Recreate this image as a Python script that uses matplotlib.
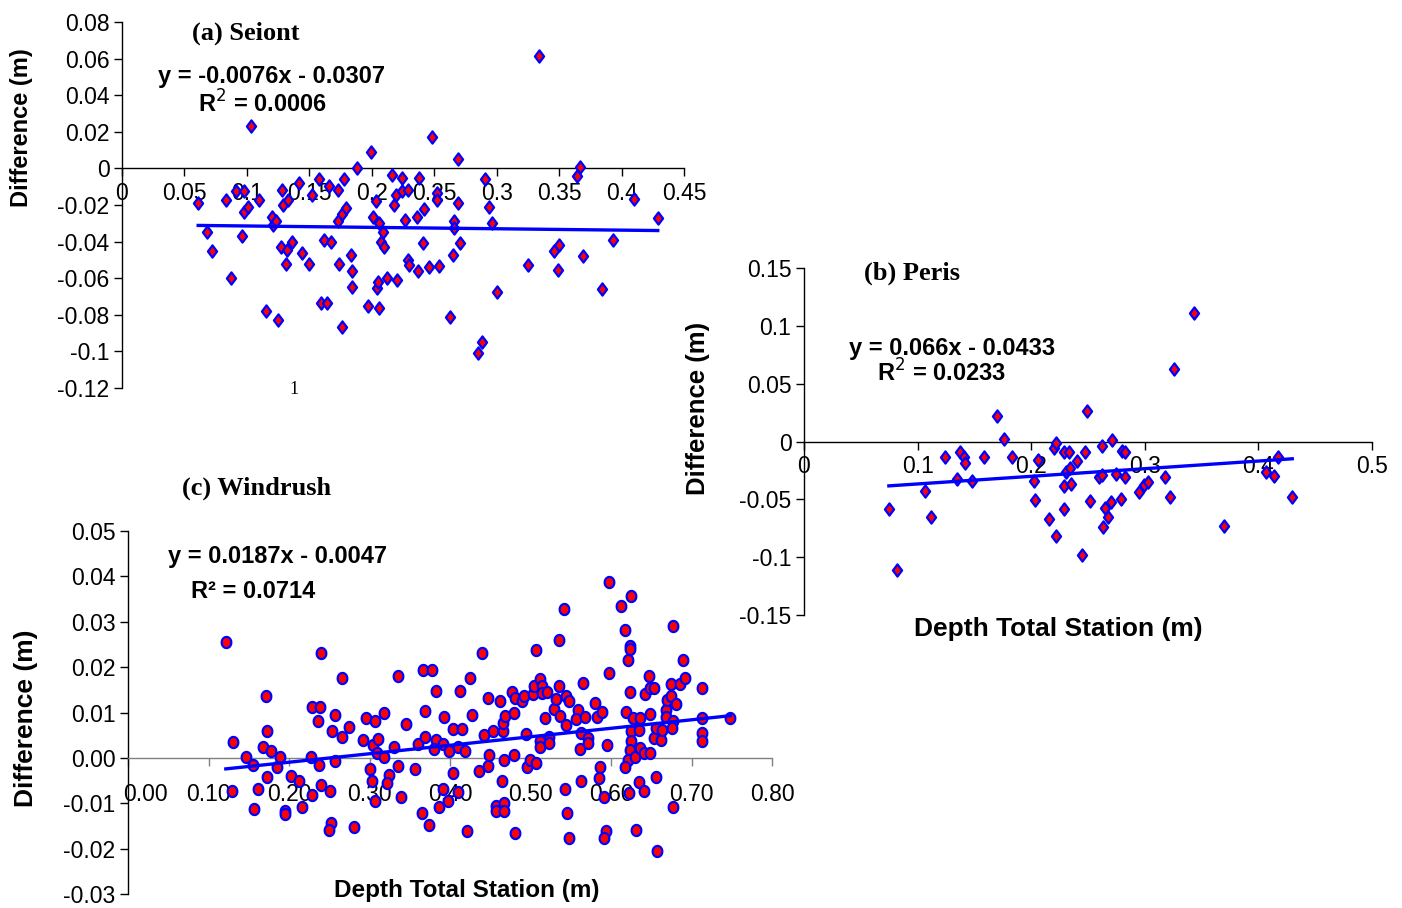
import numpy as np
import matplotlib
matplotlib.use('Agg')
import matplotlib.pyplot as plt
from matplotlib.path import Path
from matplotlib.transforms import ScaledTranslation

W, H = 1402, 908

# (a) Seiont
seiont_x = [0.061, 0.068, 0.072, 0.083, 0.087, 0.091, 0.096, 0.098, 0.098, 0.101,
            0.103, 0.110, 0.115, 0.120, 0.121, 0.123, 0.125, 0.127, 0.128, 0.129,
            0.131, 0.132, 0.133, 0.136, 0.142, 0.144, 0.150, 0.152, 0.158, 0.159,
            0.162, 0.164, 0.166, 0.167, 0.173, 0.173, 0.174, 0.176, 0.176, 0.178,
            0.179, 0.183, 0.184, 0.184, 0.188, 0.197, 0.199, 0.201, 0.203, 0.204,
            0.205, 0.206, 0.206, 0.207, 0.209, 0.210, 0.212, 0.216, 0.218, 0.219,
            0.220, 0.224, 0.224, 0.227, 0.229, 0.229, 0.230, 0.236, 0.237, 0.238,
            0.241, 0.242, 0.246, 0.248, 0.252, 0.252, 0.254, 0.263, 0.265, 0.266,
            0.266, 0.269, 0.269, 0.271, 0.285, 0.288, 0.291, 0.294, 0.296, 0.300,
            0.325, 0.334, 0.346, 0.349, 0.350, 0.364, 0.367, 0.369, 0.384, 0.393,
            0.410, 0.429]
seiont_y = [-0.0189, -0.0347, -0.0453, -0.0173, -0.0600, -0.0125, -0.0370, -0.0125, -0.0240, -0.0210,
            0.0231, -0.0173, -0.0780, -0.0265, -0.0310, -0.0290, -0.0830, -0.0430, -0.0120, -0.0200,
            -0.0525, -0.0447, -0.0175, -0.0400, -0.0080, -0.0460, -0.0525, -0.0147, -0.0058, -0.0736,
            -0.0390, -0.0736, -0.0095, -0.0400, -0.0120, -0.0290, -0.0525, -0.0865, -0.0250, -0.0058,
            -0.0215, -0.0475, -0.0560, -0.0650, 0.0000, -0.0753, 0.0087, -0.0265, -0.0180, -0.0656,
            -0.0620, -0.0300, -0.0765, -0.0400, -0.0347, -0.0430, -0.0600, -0.0036, -0.0200, -0.0147,
            -0.0610, -0.0050, -0.0125, -0.0280, -0.0120, -0.0500, -0.0527, -0.0265, -0.0560, -0.0050,
            -0.0410, -0.0220, -0.0540, 0.0170, -0.0135, -0.0170, -0.0536, -0.0810, -0.0475, -0.0290,
            -0.0325, 0.0050, -0.0190, -0.0410, -0.1007, -0.0947, -0.0060, -0.0210, -0.0300, -0.0678,
            -0.0527, 0.0613, -0.0453, -0.0556, -0.0420, -0.0042, 0.0007, -0.0480, -0.0660, -0.0393,
            -0.0165, -0.0273]
seiont_fit = (-0.0076, -0.0307)

# (b) Peris
peris_x = [0.0747, 0.0816, 0.1063, 0.1116, 0.1242, 0.1347, 0.1372, 0.1412, 0.1416, 0.1477,
           0.1587, 0.1700, 0.1757, 0.1834, 0.2025, 0.2037, 0.2062, 0.2155, 0.2200, 0.2220,
           0.2220, 0.2285, 0.2289, 0.2285, 0.2305, 0.2334, 0.2342, 0.2354, 0.2403, 0.2451,
           0.2472, 0.2492, 0.2520, 0.2601, 0.2626, 0.2626, 0.2634, 0.2646, 0.2679, 0.2699,
           0.2707, 0.2748, 0.2788, 0.2800, 0.2829, 0.2829, 0.2951, 0.2991, 0.3032, 0.3174,
           0.3222, 0.3259, 0.3429, 0.3701, 0.4067, 0.4135, 0.4176, 0.4298]
peris_y = [-0.0580, -0.1110, -0.0424, -0.0649, -0.0138, -0.0326, -0.0095, -0.0136, -0.0182, -0.0343,
           -0.0138, 0.0219, 0.0023, -0.0138, -0.0343, -0.0505, -0.0164, -0.0666, -0.0058, -0.0009,
           -0.0813, -0.0095, -0.0586, -0.0384, -0.0268, -0.0087, -0.0231, -0.0369, -0.0167, -0.0981,
           -0.0092, 0.0262, -0.0511, -0.0303, -0.0043, -0.0288, -0.0741, -0.0577, -0.0649, -0.0525,
           0.0009, -0.0280, -0.0499, -0.0081, -0.0095, -0.0303, -0.0438, -0.0375, -0.0346, -0.0303,
           -0.0482, 0.0626, 0.1110, -0.0730, -0.0268, -0.0297, -0.0130, -0.0476]
peris_fit = (0.066, -0.0433)

# (c) Windrush
windrush_x = [0.1215, 0.1306, 0.1298, 0.1472, 0.1559, 0.1560, 0.1610, 0.1710, 0.1730, 0.1730,
              0.1680, 0.1780, 0.1845, 0.1890, 0.1950, 0.1950, 0.2030, 0.2127, 0.2160, 0.2270,
              0.2290, 0.2380, 0.2360, 0.2397, 0.2376, 0.2289, 0.2397, 0.2504, 0.2575, 0.2533,
              0.2575, 0.2658, 0.2658, 0.2745, 0.2525, 0.2500, 0.2810,
              0.2915, 0.2960, 0.3068, 0.3180, 0.3040, 0.3110, 0.3090, 0.3176, 0.3006, 0.3027,
              0.3068, 0.3238, 0.3213, 0.3310, 0.3350, 0.3350, 0.3390, 0.3458, 0.3566, 0.3607,
              0.3648, 0.3735, 0.3669, 0.3777, 0.3822, 0.3694, 0.3694, 0.3822, 0.3798, 0.3930,
              0.3910, 0.3993, 0.3860, 0.3970, 0.3918, 0.4042, 0.4042, 0.4146, 0.4125, 0.4096,
              0.4190, 0.4104, 0.4254, 0.4275, 0.4400, 0.4208, 0.4362, 0.4420, 0.4470, 0.4470,
              0.4490, 0.4531, 0.4623, 0.4643, 0.4573, 0.4573, 0.4668, 0.4668, 0.4660, 0.4660,
              0.4680, 0.4677, 0.4789, 0.4764, 0.4805, 0.4789, 0.4810, 0.4896, 0.4925, 0.4946,
              0.4958, 0.4988, 0.5071, 0.5025, 0.5041, 0.5112, 0.5137, 0.5137, 0.5199, 0.5071,
              0.5112, 0.5112, 0.5224, 0.5224, 0.5182, 0.5286, 0.5311, 0.5352, 0.5370, 0.5348,
              0.5415, 0.5435, 0.5473, 0.5444, 0.5423, 0.5452, 0.5477,
              0.5589, 0.5560, 0.5672, 0.5650, 0.5622, 0.5610, 0.5717, 0.5717, 0.5630, 0.5804,
              0.5825, 0.5887, 0.5954, 0.5974, 0.5974, 0.5867, 0.5846, 0.5912, 0.5933, 0.5908,
              0.6119, 0.6244, 0.6169, 0.6231, 0.6231, 0.6210, 0.6231, 0.6190, 0.6273, 0.6356,
              0.6252, 0.6343, 0.6244, 0.6231, 0.6210, 0.6169, 0.6294, 0.6356, 0.6405, 0.6480,
              0.6343, 0.6405, 0.6219, 0.6315, 0.6427, 0.6468, 0.6489, 0.6534, 0.6489, 0.6530,
              0.6563, 0.6617, 0.6634, 0.6555, 0.6571, 0.6688, 0.6696, 0.6741, 0.6750, 0.6770,
              0.6679, 0.6770, 0.6758, 0.6812, 0.6862, 0.6895, 0.6924, 0.6770, 0.7135, 0.7135,
              0.7135, 0.7135, 0.7484]
windrush_y = [0.0255, 0.0034, -0.0074, 0.0003, -0.0016, -0.0113, -0.0068, 0.0136, 0.0060, -0.0042,
              0.0024, 0.0016, -0.0021, 0.0003, -0.0116, -0.0124, -0.0040, -0.0050, -0.0108, 0.0003,
              0.0113, 0.0113, 0.0082, 0.0232, -0.0016, -0.0081, -0.0060, -0.0074, -0.0007, 0.0060,
              0.0095, 0.0176, 0.0047, 0.0068, -0.0144, -0.0158, -0.0153,
              0.0039, 0.0087, 0.0082, 0.0100, 0.0029, 0.0042, 0.0010, 0.0002, -0.0024, -0.0050,
              -0.0096, -0.0038, -0.0055, 0.0024, 0.0180, -0.0019, -0.0087, 0.0074, -0.0024, 0.0030,
              -0.0122, -0.0147, 0.0193, 0.0193, 0.0148, 0.0104, 0.0047, 0.0040, 0.0019, 0.0091,
              0.0030, 0.0016, -0.0109, -0.0096, -0.0069, -0.0033, 0.0064, 0.0064, 0.0148, 0.0025,
              0.0016, -0.0076, 0.0176, 0.0095, 0.0232, -0.0162, -0.0029, 0.0050, -0.0018, 0.0131,
              0.0006, 0.0060, 0.0126, -0.0050, -0.0105, -0.0117, -0.0100, -0.0117, 0.0060, 0.0077,
              0.0092, -0.0005, 0.0100, 0.0145, 0.0132, 0.0006, -0.0165, 0.0125, 0.0137, 0.0053,
              -0.0021, -0.0005, -0.0011, 0.0141, 0.0158, 0.0173, 0.0158, 0.0143, 0.0145, 0.0237,
              0.0038, 0.0024, 0.0045, 0.0032, 0.0087, 0.0108, 0.0130, 0.0158, 0.0092, 0.0260,
              0.0329, 0.0136, 0.0126, 0.0072, -0.0068, -0.0122, -0.0176,
              0.0105, 0.0085, 0.0090, 0.0166, 0.0055, 0.0019, 0.0043, 0.0032, -0.0051, 0.0121,
              0.0090, 0.0101, 0.0029, 0.0188, 0.0387, -0.0020, -0.0045, -0.0087, -0.0162, -0.0176,
              0.0335, 0.0357, 0.0282, 0.0246, 0.0241, 0.0215, 0.0145, 0.0101, 0.0087, 0.0087,
              0.0060, 0.0061, 0.0038, 0.0018, -0.0004, -0.0020, 0.0003, 0.0021, 0.0010, 0.0010,
              -0.0053, -0.0073, -0.0078, -0.0160, 0.0141, 0.0181, 0.0154, 0.0154, 0.0096, 0.0043,
              0.0065, 0.0039, 0.0061, -0.0042, -0.0205, 0.0105, 0.0127, 0.0137, 0.0163, 0.0290,
              0.0090, 0.0082, 0.0065, 0.0119, 0.0163, 0.0215, 0.0176, -0.0109, 0.0153, 0.0087,
              0.0054, 0.0037, 0.0087]
windrush_fit = (0.0187, -0.0047)

# tick labels (Excel style)
a_xticks = [0, 0.05, 0.1, 0.15, 0.2, 0.25, 0.3, 0.35, 0.4, 0.45]
a_xlabels = ['0', '0.05', '0.1', '0.15', '0.2', '0.25', '0.3', '0.35', '0.4', '0.45']
a_yticks = [0.08, 0.06, 0.04, 0.02, 0, -0.02, -0.04, -0.06, -0.08, -0.1, -0.12]
a_ylabels = ['0.08', '0.06', '0.04', '0.02', '0', '-0.02', '-0.04', '-0.06', '-0.08', '-0.1', '-0.12']
b_xticks = [0, 0.1, 0.2, 0.3, 0.4, 0.5]
b_xlabels = ['0', '0.1', '0.2', '0.3', '0.4', '0.5']
b_yticks = [0.15, 0.1, 0.05, 0, -0.05, -0.1, -0.15]
b_ylabels = ['0.15', '0.1', '0.05', '0', '-0.05', '-0.1', '-0.15']
c_xticks = [0, 0.1, 0.2, 0.3, 0.4, 0.5, 0.6, 0.7, 0.8]
c_xlabels = ['0.00', '0.10', '0.20', '0.30', '0.40', '0.50', '0.60', '0.70', '0.80']
c_yticks = [0.05, 0.04, 0.03, 0.02, 0.01, 0, -0.01, -0.02, -0.03]
c_ylabels = ['0.05', '0.04', '0.03', '0.02', '0.01', '0.00', '-0.01', '-0.02', '-0.03']

SANS = 'Liberation Sans'
SERIF = 'Liberation Serif'

# marker shapes: slightly tall diamond and tall ellipse
diamond = Path([(0, 1), (0.75, 0), (0, -1), (-0.75, 0), (0, 1)],
               [Path.MOVETO, Path.LINETO, Path.LINETO, Path.LINETO, Path.CLOSEPOLY])
t = np.linspace(0, 2 * np.pi, 40)
ellipse = Path(np.column_stack([0.87 * np.cos(t), np.sin(t)]))


def rect(l, t_, r, b):
    return [l / W, 1 - b / H, (r - l) / W, (b - t_) / H]


def ftext(x, y, s, **kw):
    fig.text(x / W, 1 - y / H, s, ha='center', va='center', **kw)


def panel(r, xs, ys, fit, marker, ms, xlim, ylim, xt, xl, yt, yl, xcol='black', xpad=5):
    ax = fig.add_axes(rect(*r))
    ax.set_xlim(*xlim)
    ax.set_ylim(*ylim)
    for s in ['top', 'right']:
        ax.spines[s].set_visible(False)
    ax.spines['left'].set_position(('data', 0))
    ax.spines['bottom'].set_position(('data', 0))
    ax.spines['bottom'].set_color(xcol)
    ax.spines['left'].set_linewidth(1)
    ax.spines['bottom'].set_linewidth(1)
    ax.set_xticks(xt)
    ax.set_xticklabels(xl, fontfamily=SANS)
    ax.set_yticks(yt)
    ax.set_yticklabels(yl, fontfamily=SANS)
    ax.tick_params(axis='both', direction='out', length=6, width=1, labelsize=16.5)
    ax.tick_params(axis='x', pad=xpad, color=xcol)
    ax.tick_params(axis='y', pad=3)
    ax.patch.set_alpha(0)
    ax.plot(xs, ys, linestyle='none', marker=marker, ms=ms, mfc='#ff0000',
            mec='#0000ff', mew=1.6, zorder=3, clip_on=False)
    x0, x1 = min(xs), max(xs)
    fx = np.array([x0, x1])
    ax.plot(fx, fit[0] * fx + fit[1], color='#0000ff', lw=2.4, zorder=4)
    return ax


fig = plt.figure(figsize=(W / 100, H / 100), dpi=100)

panel((122, 22, 684, 388), seiont_x, seiont_y, seiont_fit, diamond, 8.8,
      (0, 0.45), (-0.12, 0.08), a_xticks, a_xlabels, a_yticks, a_ylabels, xpad=4)
panel((804, 268, 1372, 615), peris_x, peris_y, peris_fit, diamond, 8.8,
      (0, 0.5), (-0.15, 0.15), b_xticks, b_xlabels, b_yticks, b_ylabels, xpad=4)
axc = panel((128, 531, 772, 894), windrush_x, windrush_y, windrush_fit, ellipse, 8.0,
            (0, 0.8), (-0.03, 0.05), c_xticks, c_xlabels, c_yticks, c_ylabels,
            xcol='#808080', xpad=12)
# first x label of (c) sits right of the axis, as in the original
lab0 = axc.get_xticklabels()[0]
lab0.set_transform(lab0.get_transform() + ScaledTranslation(0.17, 0, fig.dpi_scale_trans))

bold_sans = dict(fontfamily=SANS, fontweight='bold', fontsize=17)
title_font = dict(fontfamily=SERIF, fontweight='bold', fontsize=19)

# (a)
ftext(246, 33, '(a) Seiont', **title_font)
ftext(272, 76, 'y = -0.0076x - 0.0307', **bold_sans)
ftext(262, 104, r'R$^{2}$ = 0.0006', **bold_sans)
ftext(294, 390, '1', fontfamily=SERIF, fontsize=13)
ftext(22, 128, 'Difference (m)', rotation=90, fontfamily=SANS, fontweight='bold', fontsize=17)

# (b)
ftext(912, 273, '(b) Peris', **title_font)
ftext(952, 348, 'y = 0.066x - 0.0433', **bold_sans)
ftext(941, 373, r'R$^{2}$ = 0.0233', **bold_sans)
ftext(698, 408, 'Difference (m)', rotation=90, fontfamily=SANS, fontweight='bold', fontsize=18.5)
ftext(1058, 629, 'Depth Total Station (m)', fontfamily=SANS, fontweight='bold', fontsize=19)

# (c)
ftext(257, 488, '(c) Windrush', **title_font)
ftext(278, 556, 'y = 0.0187x - 0.0047', **bold_sans)
ftext(253, 592, 'R² = 0.0714', **bold_sans)
ftext(26, 718, 'Difference (m)', rotation=90, fontfamily=SANS, fontweight='bold', fontsize=19)
ftext(467, 891, 'Depth Total Station (m)', fontfamily=SANS, fontweight='bold', fontsize=17.5)

fig.savefig('out.png', dpi=100)
